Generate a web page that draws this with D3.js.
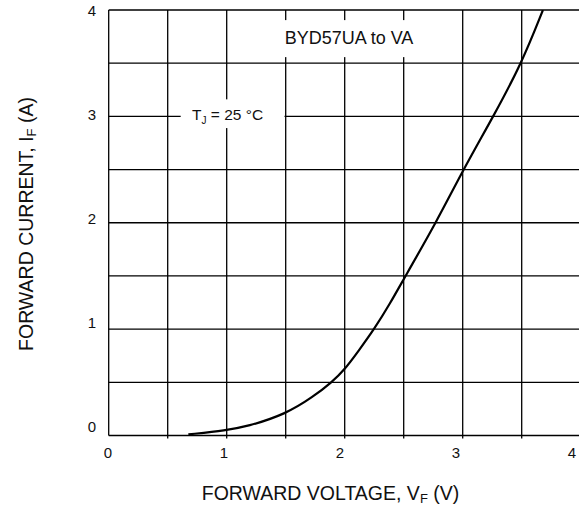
<!DOCTYPE html>
<html><head><meta charset="utf-8">
<script src="https://cdn.jsdelivr.net/npm/d3@7"></script>
<style>body{margin:0;background:#fff}svg{display:block;font-family:"Liberation Sans",Arial,sans-serif}</style>
</head><body>
<svg id="c" width="579" height="513"></svg>
<script>
// data
const voltage = [0.675, 1.0, 1.17, 1.5, 1.734, 1.89, 2.0, 2.12, 2.25, 2.384, 2.515, 2.774, 3.005, 3.26, 3.5, 3.68];
const current = [0.01, 0.05, 0.083, 0.2, 0.365, 0.5, 0.62, 0.80, 1.0, 1.24, 1.5, 2.0, 2.5, 3.0, 3.5, 4.0];
const xTickLabels = ["0","1","2","3","4"];
const yTickLabels = ["0","1","2","3","4"];
const gridSteps = [0,0.5,1,1.5,2,2.5,3,3.5,4];

const svg = d3.select("#c");
const x = d3.scaleLinear().domain([0,4]).range([108.7,580.7]);
const y = d3.scaleLinear().domain([0,4]).range([435.5,10]);
const xl = d3.scaleLinear().domain([0,4]).range([108,572]);
const yl = d3.scaleLinear().domain([0,4]).range([427,11]);

svg.append("rect").attr("width",579).attr("height",513).attr("fill","#fff");

const g = svg.append("g");
// vertical grid
g.selectAll("line.v").data(gridSteps).join("line")
  .attr("x1",d=>x(d)).attr("x2",d=>x(d))
  .attr("y1",y(4)).attr("y2",d=>y(0)+(d>0?3:0))
  .attr("stroke","#000").attr("stroke-width",1.3);
// horizontal grid
g.selectAll("line.h").data(gridSteps).join("line")
  .attr("x1",x(0)).attr("x2",x(4))
  .attr("y1",d=>y(d)).attr("y2",d=>y(d))
  .attr("stroke","#000").attr("stroke-width",1.3);

// label boxes
svg.append("rect").attr("x",x(1.35)).attr("y",y(3.905)).attr("width",x(2.72)-x(1.35)).attr("height",y(3.557)-y(3.905)).attr("fill","#fff");
svg.append("rect").attr("x",x(0.61)).attr("y",y(3.16)).attr("width",x(1.49)-x(0.61)).attr("height",y(2.89)-y(3.16)).attr("fill","#fff");

svg.append("text").attr("x",349).attr("y",44).attr("text-anchor","middle")
  .attr("font-size",18).attr("fill","#111").text("BYD57UA to VA");
const tj = svg.append("text").attr("x",192).attr("y",120).attr("font-size",15.5).attr("fill","#111");
tj.append("tspan").text("T");
tj.append("tspan").attr("font-size",10).attr("dy",4).text("J");
tj.append("tspan").attr("dy",-4).text(" = 25 °C");

// curve
const clip = svg.append("clipPath").attr("id","pc").append("rect")
  .attr("x",x(0)).attr("y",y(4)).attr("width",x(4)-x(0)).attr("height",y(0)-y(4));
const pts = voltage.map((v,i)=>[v,current[i]]);
svg.append("path").datum(pts).attr("clip-path","url(#pc)")
  .attr("fill","none").attr("stroke","#000").attr("stroke-width",2.2)
  .attr("d", d3.line().x(d=>x(d[0])).y(d=>y(d[1])).curve(d3.curveBasis));

// tick labels
svg.selectAll("text.xt").data(xTickLabels).join("text")
  .attr("x",(d,i)=>xl(i)).attr("y",458).attr("text-anchor","middle")
  .attr("font-size",15).attr("fill","#111").text(d=>d);
svg.selectAll("text.yt").data(yTickLabels).join("text")
  .attr("x",92).attr("y",(d,i)=>yl(i)+5).attr("text-anchor","middle")
  .attr("font-size",15).attr("fill","#111").text(d=>d);

// axis titles
const xt = svg.append("text").attr("x",330.5).attr("y",500).attr("text-anchor","middle")
  .attr("font-size",19.5).attr("fill","#111");
xt.append("tspan").text("FORWARD VOLTAGE, V");
xt.append("tspan").attr("font-size",13).attr("dy",3).text("F");
xt.append("tspan").attr("dy",-3).text(" (V)");

const yt = svg.append("text").attr("transform","translate(33,224) rotate(-90)").attr("text-anchor","middle")
  .attr("font-size",19.5).attr("fill","#111");
yt.append("tspan").text("FORWARD CURRENT, I");
yt.append("tspan").attr("font-size",13).attr("dy",3).text("F");
yt.append("tspan").attr("dy",-3).text(" (A)");
</script>
</body></html>
